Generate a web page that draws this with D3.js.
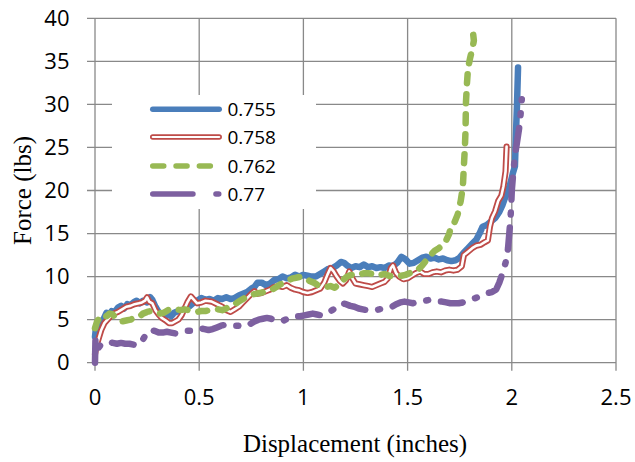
<!DOCTYPE html>
<html><head><meta charset="utf-8">
<script src="https://cdn.jsdelivr.net/npm/d3@7"></script>
<style>
html,body{margin:0;padding:0;background:#fff;}
svg{display:block;}
</style></head>
<body>
<svg id="chart" width="635" height="462"></svg>
<script>
// ---------- data ----------
const xTicks = [0, 0.5, 1, 1.5, 2, 2.5];
const xTickLabels = ["0", "0.5", "1", "1.5", "2", "2.5"];
const yTicks = [0, 5, 10, 15, 20, 25, 30, 35, 40];
const yTickLabels = ["0", "5", "10", "15", "20", "25", "30", "35", "40"];
const seriesNames = ["0.755", "0.758", "0.762", "0.77"];

const s755 = [
[0.000,3.0],[0.005,4.2],[0.015,3.6],[0.025,4.8],[0.040,5.0],[0.055,5.8],[0.065,5.5],[0.080,6.0],[0.095,5.9],[0.110,6.4],
[0.125,6.6],[0.140,6.3],[0.155,6.8],[0.170,6.7],[0.185,7.0],[0.200,7.2],[0.215,6.9],[0.230,7.2],[0.250,7.0],[0.265,7.6],
[0.275,7.3],[0.290,6.5],[0.305,5.9],[0.320,5.4],[0.335,5.3],[0.350,5.6],[0.365,5.4],[0.380,5.8],[0.400,6.0],[0.420,6.1],
[0.440,6.5],[0.455,6.6],[0.470,6.9],[0.490,7.2],[0.510,7.5],[0.530,7.3],[0.550,7.4],[0.570,7.2],[0.590,7.5],[0.610,7.4],
[0.630,7.6],[0.650,7.4],[0.670,7.5],[0.690,7.8],[0.710,8.0],[0.730,8.2],[0.750,8.6],[0.765,8.8],[0.780,9.3],[0.800,9.3],
[0.820,9.0],[0.840,9.2],[0.860,9.6],[0.880,9.7],[0.900,10.0],[0.920,9.8],[0.940,9.9],[0.960,10.2],[0.980,10.0],[1.000,10.2],
[1.020,10.1],[1.040,10.0],[1.060,10.0],[1.080,10.3],[1.100,10.6],[1.120,10.9],[1.140,11.0],[1.160,11.3],[1.180,11.7],[1.195,11.6],
[1.210,11.3],[1.230,11.0],[1.250,11.2],[1.270,11.1],[1.290,11.4],[1.310,11.1],[1.330,11.2],[1.350,11.0],[1.370,11.1],[1.390,11.0],
[1.410,11.3],[1.430,11.2],[1.450,11.6],[1.470,12.3],[1.490,12.0],[1.510,11.5],[1.530,11.6],[1.550,11.9],[1.570,12.2],[1.590,12.3],
[1.610,12.1],[1.630,12.2],[1.650,12.0],[1.670,12.1],[1.690,11.9],[1.710,11.8],[1.730,11.9],[1.750,12.2],[1.770,12.8],[1.790,13.3],
[1.810,13.8],[1.830,14.3],[1.845,15.0],[1.860,15.8],[1.880,16.0],[1.900,16.4],[1.920,16.8],[1.940,17.5],[1.955,18.3],[1.965,19.0],
[1.980,19.8],[1.995,21.0],[2.005,22.0],[2.015,22.8],[2.020,26.6],[2.025,30.0],[2.030,34.3]
];

const s758 = [
[0.000,1.0],[0.010,2.2],[0.020,3.0],[0.030,3.8],[0.045,4.6],[0.060,5.0],[0.075,5.4],[0.090,5.7],[0.110,5.9],[0.130,6.2],
[0.150,6.5],[0.170,6.6],[0.190,6.8],[0.210,6.9],[0.225,7.0],[0.240,7.2],[0.250,7.6],[0.260,7.1],[0.275,6.9],[0.290,6.1],
[0.305,5.6],[0.320,5.2],[0.340,4.9],[0.355,4.6],[0.370,4.6],[0.385,4.8],[0.400,5.0],[0.415,5.5],[0.430,6.3],[0.445,7.1],
[0.460,7.7],[0.475,7.3],[0.490,6.9],[0.510,7.0],[0.530,7.2],[0.560,7.1],[0.585,6.8],[0.610,6.5],[0.630,6.1],[0.650,5.9],
[0.670,6.2],[0.690,6.5],[0.710,7.0],[0.730,7.5],[0.750,8.0],[0.765,8.3],[0.780,8.0],[0.800,8.1],[0.820,8.3],[0.840,8.5],
[0.860,8.8],[0.880,8.9],[0.900,8.8],[0.920,9.0],[0.940,8.7],[0.960,8.5],[0.980,8.4],[1.000,8.2],[1.020,8.1],[1.040,8.2],
[1.060,8.4],[1.080,8.6],[1.100,9.3],[1.115,10.2],[1.130,11.0],[1.145,10.6],[1.160,10.0],[1.175,9.5],[1.190,9.2],[1.205,9.6],
[1.220,10.6],[1.235,9.8],[1.250,9.2],[1.270,9.1],[1.290,9.0],[1.310,8.9],[1.330,8.8],[1.350,9.0],[1.370,9.2],[1.390,9.4],
[1.405,9.8],[1.420,11.0],[1.430,11.3],[1.445,10.4],[1.460,10.0],[1.480,9.7],[1.500,9.8],[1.520,10.1],[1.540,10.4],[1.560,10.6],
[1.580,10.3],[1.600,10.3],[1.620,10.5],[1.640,10.6],[1.660,10.5],[1.680,10.7],[1.700,10.8],[1.720,10.7],[1.740,10.8],[1.760,11.2],
[1.770,12.5],[1.790,12.9],[1.810,13.3],[1.830,13.6],[1.850,13.7],[1.870,14.0],[1.885,14.2],[1.895,15.8],[1.905,16.8],[1.920,17.6],
[1.935,18.8],[1.950,19.4],[1.960,20.5],[1.970,22.2],[1.975,25.1]
];

const s762 = [
[0.000,4.0],[0.010,4.8],[0.025,5.3],[0.040,5.6],[0.055,5.4],[0.070,5.7],[0.085,5.6],[0.100,5.2],[0.115,4.9],[0.130,4.8],
[0.150,4.9],[0.170,5.0],[0.190,5.2],[0.210,5.3],[0.230,5.7],[0.250,5.9],[0.270,6.0],[0.290,5.9],[0.310,5.7],[0.330,5.8],
[0.350,6.1],[0.370,6.3],[0.390,6.2],[0.410,6.1],[0.430,6.2],[0.450,6.1],[0.470,6.0],[0.490,5.9],[0.510,6.0],[0.530,6.0],
[0.550,6.1],[0.570,6.1],[0.590,6.2],[0.610,6.1],[0.630,6.3],[0.650,6.6],[0.670,6.8],[0.690,7.1],[0.710,7.4],[0.730,7.7],
[0.750,7.9],[0.770,8.0],[0.790,8.1],[0.810,8.2],[0.830,8.3],[0.850,8.5],[0.870,8.8],[0.890,9.1],[0.910,9.3],[0.930,9.6],
[0.950,9.8],[0.970,9.9],[0.990,10.0],[1.010,9.8],[1.030,9.5],[1.050,9.3],[1.070,9.0],[1.090,8.8],[1.110,8.8],[1.130,8.9],
[1.150,8.7],[1.170,9.1],[1.190,9.6],[1.210,10.0],[1.230,10.2],[1.250,10.1],[1.270,10.2],[1.290,10.4],[1.310,10.4],[1.330,10.3],
[1.350,10.4],[1.370,10.2],[1.390,10.3],[1.410,10.1],[1.430,10.0],[1.450,10.0],[1.470,10.1],[1.490,10.2],[1.510,10.4],[1.530,10.5],
[1.550,10.8],[1.570,11.3],[1.590,11.9],[1.610,12.5],[1.630,13.0],[1.650,13.3],[1.670,13.7],[1.685,14.2],[1.700,15.0],[1.710,16.0],
[1.725,16.3],[1.740,17.2],[1.755,18.8],[1.765,20.4],[1.770,22.8],[1.775,25.1],[1.778,27.0],[1.780,30.2],[1.785,32.5],[1.790,34.2],
[1.800,35.4],[1.812,36.6],[1.818,37.4],[1.814,38.3],[1.810,38.9]
];

const s770 = [
[0.000,0.0],[0.002,2.6],[0.010,1.5],[0.025,2.0],[0.045,2.1],[0.065,2.4],[0.085,2.3],[0.105,2.2],[0.125,2.3],[0.145,2.2],
[0.165,2.2],[0.185,2.1],[0.205,2.0],[0.220,2.3],[0.235,2.9],[0.250,3.5],[0.265,3.8],[0.285,3.7],[0.305,3.5],[0.325,3.5],
[0.345,3.6],[0.365,3.5],[0.385,3.4],[0.405,3.5],[0.425,3.6],[0.445,3.7],[0.465,3.7],[0.485,3.9],[0.505,4.0],[0.525,3.9],
[0.545,3.8],[0.565,3.9],[0.585,4.1],[0.605,4.3],[0.625,4.4],[0.645,4.4],[0.665,4.3],[0.685,4.3],[0.705,4.2],[0.725,4.3],
[0.745,4.5],[0.765,4.8],[0.785,5.0],[0.805,5.1],[0.825,5.2],[0.845,5.1],[0.865,4.9],[0.885,4.8],[0.905,4.9],[0.925,5.1],
[0.945,5.3],[0.965,5.4],[0.985,5.4],[1.005,5.5],[1.025,5.6],[1.045,5.7],[1.065,5.6],[1.085,5.5],[1.105,5.6],[1.125,5.9],
[1.145,6.2],[1.165,6.5],[1.185,6.9],[1.205,6.8],[1.225,6.6],[1.245,6.5],[1.265,6.3],[1.285,6.2],[1.305,6.1],[1.325,6.1],
[1.345,6.1],[1.365,6.2],[1.385,6.3],[1.405,6.4],[1.425,6.5],[1.445,6.8],[1.465,7.0],[1.485,7.1],[1.505,7.0],[1.525,6.9],
[1.545,7.0],[1.565,7.1],[1.585,7.2],[1.605,7.3],[1.625,7.2],[1.645,7.1],[1.665,7.1],[1.685,7.0],[1.705,6.9],[1.725,6.9],
[1.745,6.9],[1.765,7.0],[1.785,7.2],[1.805,7.4],[1.825,7.5],[1.845,7.7],[1.865,7.9],[1.885,8.1],[1.905,8.2],[1.925,8.5],
[1.940,9.3],[1.950,10.0],[1.960,10.8],[1.970,11.6],[1.978,12.5],[1.982,13.3],[1.988,15.0],[1.993,16.5],[1.997,18.2],[2.000,20.0],
[2.005,21.5],[2.010,22.8],[2.018,24.5],[2.025,25.6],[2.035,27.2],[2.042,28.8],[2.048,30.6]
];

// ---------- chart ----------
const svg = d3.select("#chart");
const x = d3.scaleLinear().domain([0, 2.5]).range([95, 616]);
const y = d3.scaleLinear().domain([0, 40]).range([362.7, 18.3]);

const gridColor = "#898989";
const grid = svg.append("g");
grid.selectAll("line.h").data(yTicks).join("line")
  .attr("x1", 87).attr("x2", x(2.5))
  .attr("y1", d => y(d)).attr("y2", d => y(d))
  .attr("stroke", gridColor).attr("stroke-width", 1.3);
grid.selectAll("line.v").data(xTicks).join("line")
  .attr("x1", d => x(d)).attr("x2", d => x(d))
  .attr("y1", y(40)).attr("y2", 370.7)
  .attr("stroke", gridColor).attr("stroke-width", 1.3);

const tickFont = "'Open Sans', 'Noto Sans', sans-serif";
svg.append("g").selectAll("text").data(yTicks).join("text")
  .attr("x", 69.5).attr("y", d => y(d) + 7.6)
  .attr("text-anchor", "end")
  .attr("font-family", tickFont).attr("font-size", 22).attr("fill", "#000")
  .text((d, i) => yTickLabels[i]);
svg.append("g").selectAll("text").data(xTicks).join("text")
  .attr("x", d => x(d)).attr("y", 405)
  .attr("text-anchor", "middle")
  .attr("font-family", tickFont).attr("font-size", 22).attr("fill", "#000")
  .text((d, i) => xTickLabels[i]);

svg.append("text")
  .attr("x", 355).attr("y", 452)
  .attr("text-anchor", "middle")
  .attr("font-family", "'Liberation Serif', 'Times New Roman', serif")
  .attr("font-size", 25).attr("fill", "#000")
  .text("Displacement (inches)");
svg.append("text")
  .attr("transform", "translate(31,190.5) rotate(-90)")
  .attr("text-anchor", "middle")
  .attr("font-family", "'Liberation Serif', 'Times New Roman', serif")
  .attr("font-size", 25).attr("fill", "#000")
  .text("Force (lbs)");

// series styles (plot dash patterns shortened to mimic the jagged raw traces)
const styles = [
  { data: s755, color: "#4A7EBB", dash: null, legDash: null, inner: false, w: 6.5 },
  { data: s758, color: "#BE4B48", dash: null, legDash: null, inner: true, w: 6.2 },
  { data: s762, color: "#98B954", dash: "9,11", legDash: "11,12.3", inner: false, w: 6.5 },
  { data: s770, color: "#7D60A0", dash: "22,13,2,13", legDash: "40.2,23,2.8,23", inner: false, w: 6.5 }
];
const SW = 5.5;
const line = d3.line().x(d => x(d[0])).y(d => y(d[1]));

const plot = svg.append("g");
styles.forEach(s => {
  const p = plot.append("path").datum(s.data)
    .attr("d", line).attr("fill", "none")
    .attr("stroke", s.color).attr("stroke-width", s.w)
    .attr("stroke-linecap", "round").attr("stroke-linejoin", "round");
  if (s.dash) p.attr("stroke-dasharray", s.dash);
  if (s.inner) {
    plot.append("path").datum(s.data)
      .attr("d", line).attr("fill", "none")
      .attr("stroke", "#fff").attr("stroke-width", 2.6)
      .attr("stroke-linecap", "round").attr("stroke-linejoin", "round");
  }
});

// legend
const lg = svg.append("g");
lg.append("rect").attr("x", 112).attr("y", 95).attr("width", 204).attr("height", 114).attr("fill", "#fff");
const legY = [109.3, 137, 166, 194];
styles.forEach((s, i) => {
  const seg = [[152.75, legY[i]], [219.2, legY[i]]];
  const p = lg.append("path").attr("d", d3.line()(seg)).attr("fill", "none")
    .attr("stroke", s.color).attr("stroke-width", SW).attr("stroke-linecap", "round");
  if (s.legDash) p.attr("stroke-dasharray", s.legDash);
  if (s.inner) {
    lg.append("path").attr("d", d3.line()(seg)).attr("fill", "none")
      .attr("stroke", "#fff").attr("stroke-width", 2.2).attr("stroke-linecap", "round");
  }
  lg.append("text").attr("x", 227.5).attr("y", legY[i] + 6.8)
    .attr("font-family", tickFont).attr("font-size", 19).attr("fill", "#000")
    .text(seriesNames[i]);
});
</script>
</body></html>
